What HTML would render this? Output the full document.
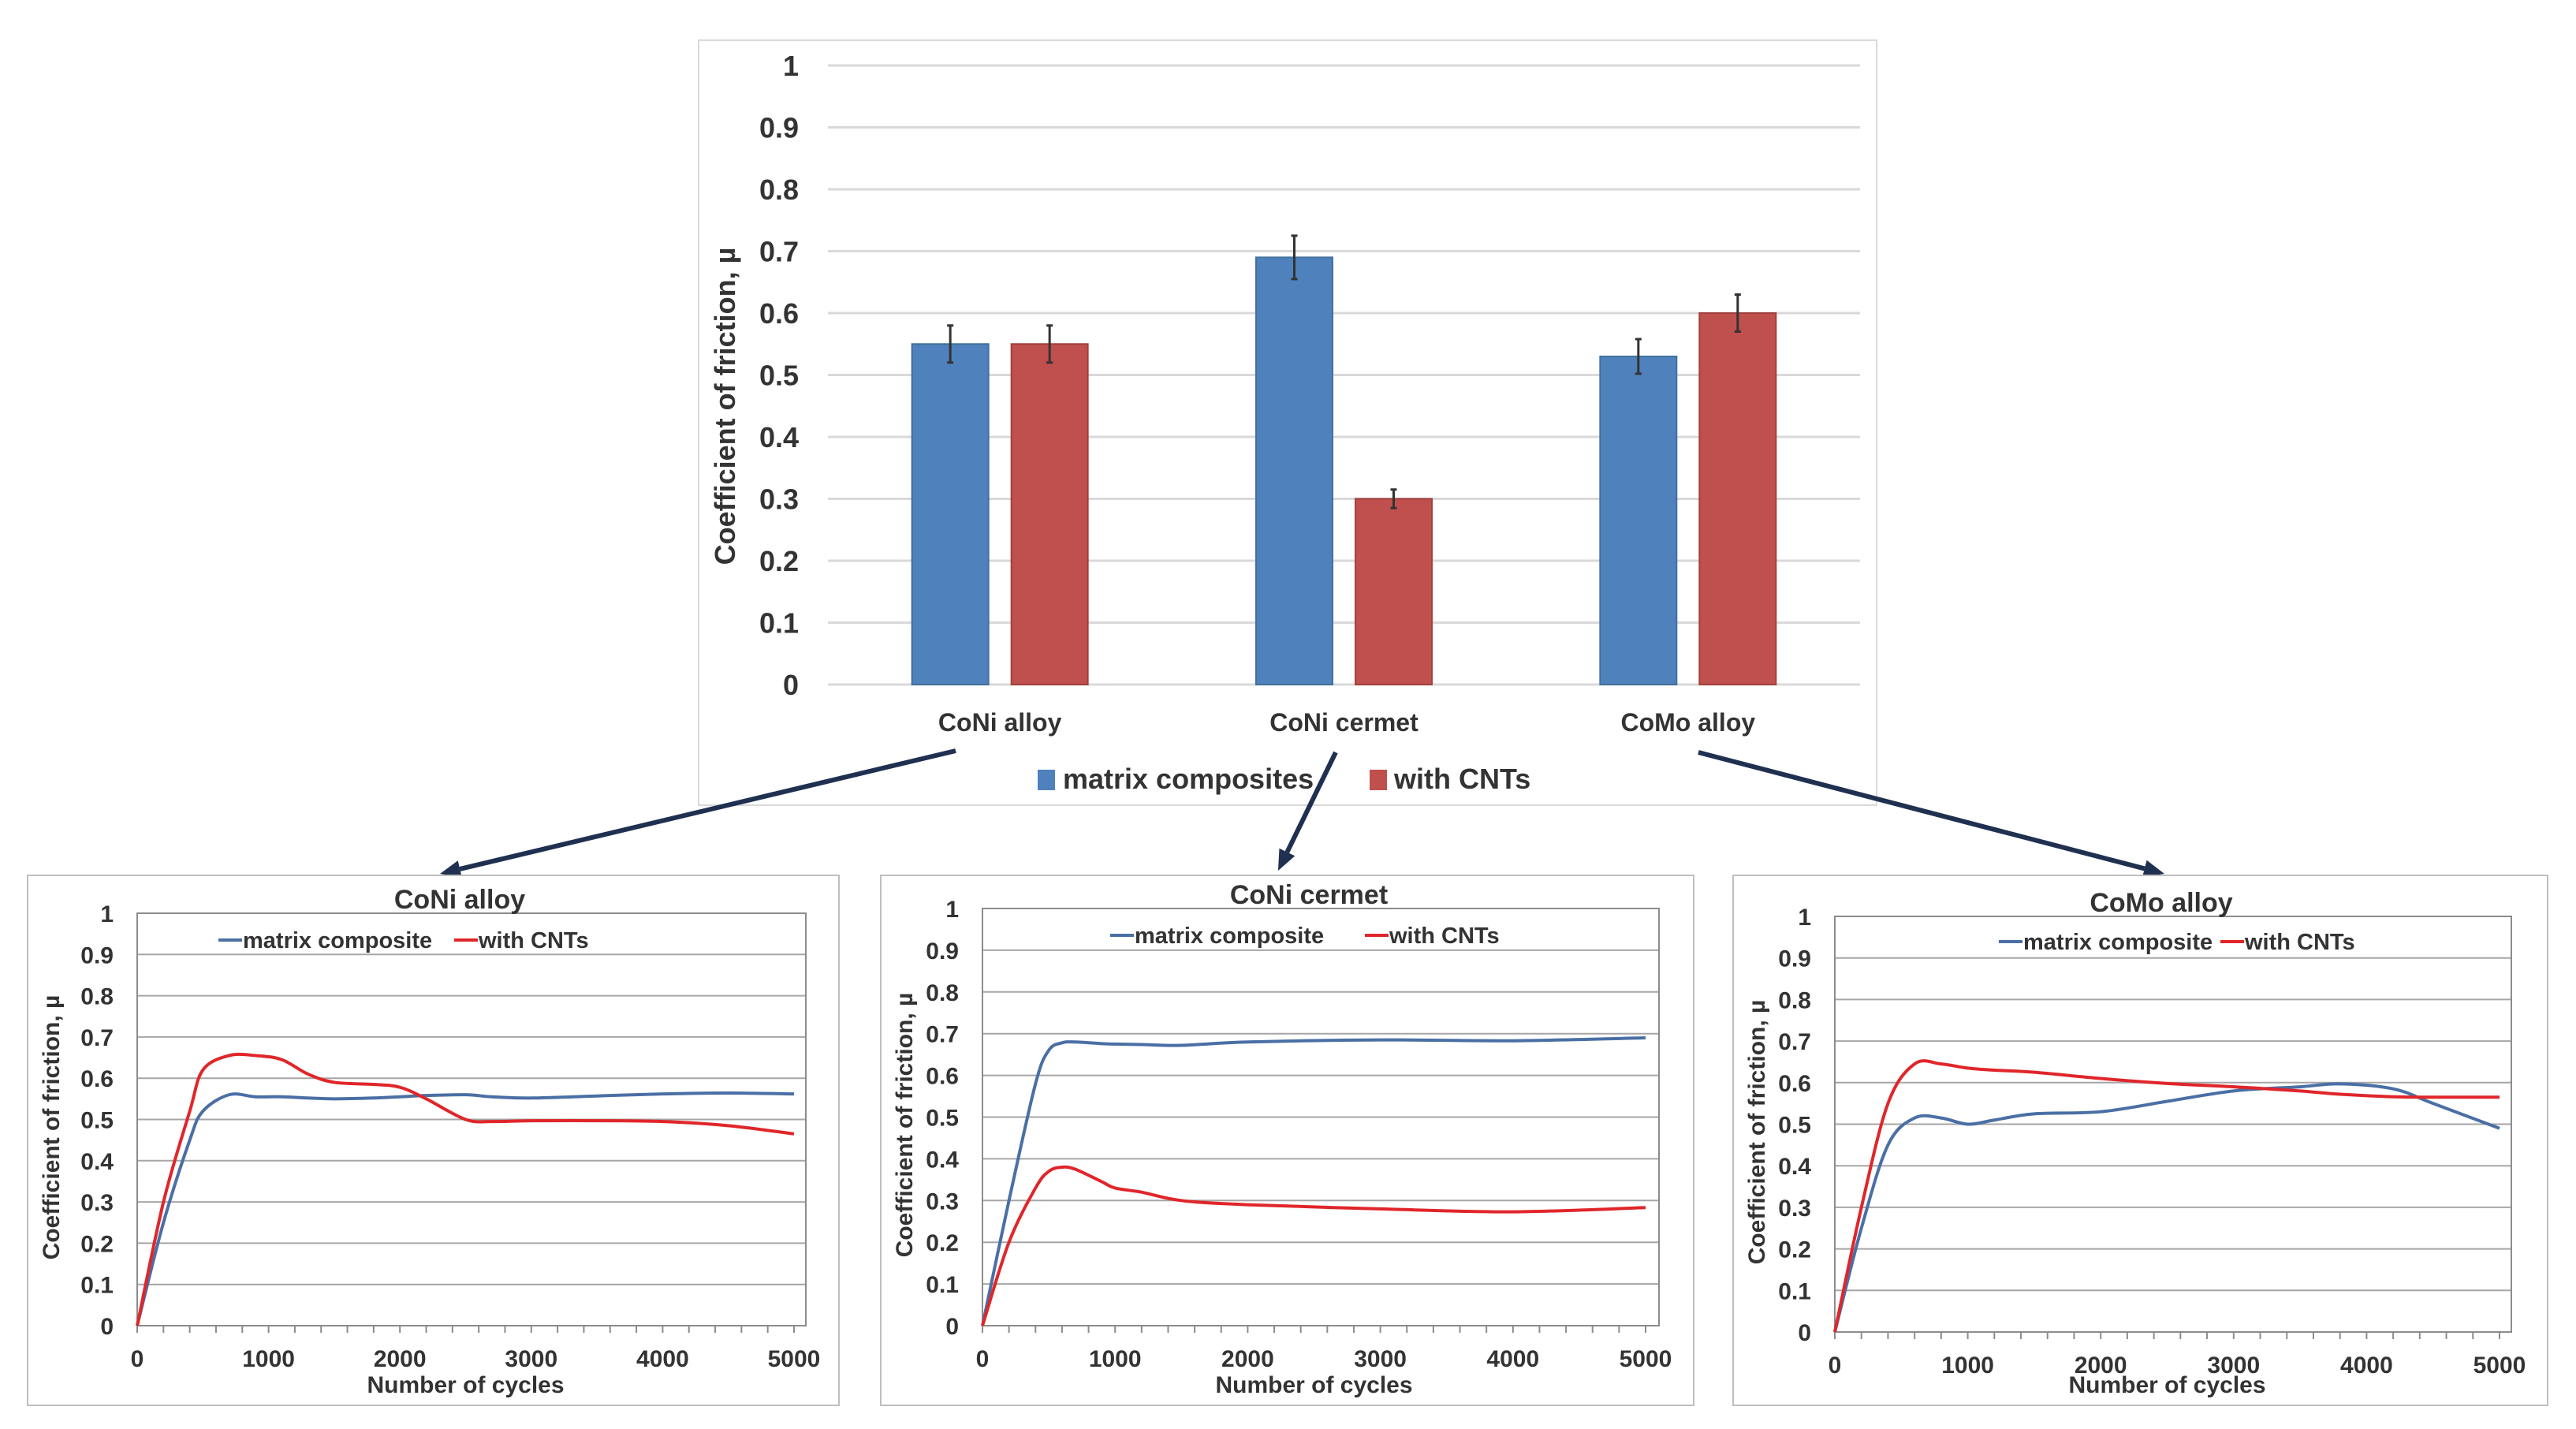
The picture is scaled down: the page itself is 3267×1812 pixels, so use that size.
<!DOCTYPE html>
<html><head><meta charset="utf-8"><style>
html,body{margin:0;padding:0;background:#fff;}
svg{display:block;}
text{font-family:"Liberation Sans",sans-serif;font-weight:bold;fill:#333;}
</style></head><body>
<svg id="s" width="3267" height="1812" viewBox="0 0 3267 1812" xmlns="http://www.w3.org/2000/svg"></svg>
<script>
// ---- top bar chart data ----
const barCategories = ["CoNi alloy","CoNi cermet","CoMo alloy"];
const matrixValues = [0.55,0.69,0.53];
const cntValues = [0.55,0.30,0.60];
const matrixErr = [0.03,0.035,0.028];
const cntErr = [0.03,0.015,0.03];
const yTicks = [0,0.1,0.2,0.3,0.4,0.5,0.6,0.7,0.8,0.9,1];
const yTickLabels = ["0","0.1","0.2","0.3","0.4","0.5","0.6","0.7","0.8","0.9","1"];
// ---- line chart data ----
const cycleTicks = [0,1000,2000,3000,4000,5000];
const coniX = [0,200,400,500,700,900,1100,1300,1500,1800,2000,2200,2500,2700,3000,3500,4000,4500,5000];
const coniMatrix = [0,0.25,0.45,0.52,0.56,0.555,0.555,0.552,0.55,0.552,0.555,0.558,0.56,0.555,0.552,0.557,0.562,0.564,0.562];
const coniCnt = [0,0.3,0.52,0.62,0.655,0.655,0.645,0.61,0.59,0.585,0.578,0.55,0.50,0.495,0.497,0.497,0.495,0.485,0.465];
const cermetX = [0,200,400,500,600,700,900,1000,1200,1500,2000,3000,4000,5000];
const cermetMatrix = [0,0.3,0.58,0.66,0.678,0.68,0.676,0.675,0.674,0.672,0.68,0.685,0.683,0.69];
const cermetCnt = [0,0.2,0.33,0.37,0.38,0.375,0.345,0.33,0.32,0.30,0.29,0.28,0.273,0.283];
const comoX = [0,200,400,600,800,1000,1200,1500,2000,2500,3000,3500,3800,4200,4500,5000];
const comoMatrix = [0,0.25,0.45,0.515,0.515,0.50,0.51,0.525,0.53,0.555,0.58,0.59,0.597,0.585,0.55,0.49];
const comoCnt = [0,0.3,0.55,0.645,0.645,0.635,0.63,0.625,0.61,0.598,0.59,0.58,0.572,0.566,0.565,0.565];

const NS="http://www.w3.org/2000/svg";
const svg=document.getElementById('s');
function el(tag,attrs,parent){const e=document.createElementNS(NS,tag);for(const k in attrs)e.setAttribute(k,attrs[k]);(parent||svg).appendChild(e);return e;}
function txt(str,attrs,parent){const e=el('text',attrs,parent);e.textContent=str;return e;}

// ===== Top chart =====
const T={x0:1050,x1:2359,y0:868,y1:83};
const ty=v=>T.y0+(T.y1-T.y0)*v;
const topG=el('g',{});


const frame=el('rect',{x:886,y:51,width:1494,height:970,fill:'#fff',stroke:'#d9d9d9','stroke-width':2},topG);


yTicks.forEach((v,i)=>{
  const g=el('line',{x1:T.x0,x2:T.x1,y1:ty(v),y2:ty(v),stroke:'#d9d9d9','stroke-width':3},topG);
  
  
  const t=txt(yTickLabels[i],{x:1013,y:ty(v)+13,'text-anchor':'end','font-size':36},topG);
  
  
});
const yt=txt('Coefficient of friction, µ',{x:0,y:0,'font-size':36,'text-anchor':'middle',transform:'translate(932,515) rotate(-90)'},topG);


const catW=(T.x1-T.x0)/barCategories.length, bw=97, gap=29;
barCategories.forEach((c,i)=>{
  const cx=T.x0+catW*(i+0.5);
  [[matrixValues[i],matrixErr[i],'#4f81bd','#41719c',cx-gap/2-bw,'bar-matrix'],[cntValues[i],cntErr[i],'#c0504d','#a2403d',cx+gap/2,'bar-cnt']].forEach(([v,e,f,s,x,n])=>{
    const r=el('rect',{x:x,y:ty(v),width:bw,height:T.y0-ty(v),fill:f,stroke:s,'stroke-width':2},topG);
    
    
    const mx=x+bw/2;
    const eb=el('path',{d:`M${mx},${ty(v+e)}V${ty(v-e)}M${mx-4},${ty(v+e)}h8M${mx-4},${ty(v-e)}h8`,stroke:'#333','stroke-width':3,fill:'none'},topG);
    
    
  });
  const cl=txt(c,{x:cx,y:927,'text-anchor':'middle','font-size':32},topG);
  
  
});
const lg=el('g',{},topG);


el('rect',{x:1316,y:976,width:22,height:26,fill:'#4f81bd'},lg);
const l1=txt('matrix composites',{x:1348,y:1000,'font-size':36},lg);


el('rect',{x:1737,y:976,width:22,height:26,fill:'#c0504d'},lg);
const l2=txt('with CNTs',{x:1768,y:1000,'font-size':36},lg);



// ===== Arrows =====
const arrows=[[1212,952,558,1108],[1694,954,1621,1104],[2154,954,2745,1108]];
arrows.forEach(a=>{
  const [x1,y1,x2,y2]=a;const ang=Math.atan2(y2-y1,x2-x1);const L=26,W=11;
  const bx=x2-L*Math.cos(ang),by=y2-L*Math.sin(ang);
  const g=el('g',{});
  
  
  el('line',{x1:x1,y1:y1,x2:bx,y2:by,stroke:'#1f3050','stroke-width':6},g);
  el('polygon',{points:`${x2},${y2} ${bx-W*Math.sin(ang)},${by+W*Math.cos(ang)} ${bx+W*Math.sin(ang)},${by-W*Math.cos(ang)}`,fill:'#1f3050'},g);
});

// ===== Line charts =====
function smooth(pts){let d=`M${pts[0][0]},${pts[0][1]}`;for(let i=0;i<pts.length-1;i++){const p0=pts[Math.max(0,i-1)],p1=pts[i],p2=pts[i+1],p3=pts[Math.min(pts.length-1,i+2)];d+=`C${p1[0]+(p2[0]-p0[0])/6},${p1[1]+(p2[1]-p0[1])/6} ${p2[0]-(p3[0]-p1[0])/6},${p2[1]-(p3[1]-p1[1])/6} ${p2[0]},${p2[1]}`;}return d;}
function lineChart(name,title,F,P,leg,xs,blue,red){
  const g=el('g',{});
  
  
  el('rect',{x:F[0],y:F[1],width:F[2]-F[0],height:F[3]-F[1],fill:'#fff',stroke:'#bfbfbf','stroke-width':2},g);
  const X=v=>P.x0+(P.x5-P.x0)*v/5000, Y=v=>P.y0+(P.y1-P.y0)*v;
  yTicks.forEach((v,i)=>{
    const gl=el('line',{x1:P.x0,x2:P.xr,y1:Y(v),y2:Y(v),stroke:'#a6a6a6','stroke-width':2},g);
    
    
    const t=txt(yTickLabels[i],{x:P.x0-30,y:Y(v)+11,'text-anchor':'end','font-size':30},g);
    
    
  });
  el('rect',{x:P.x0,y:Y(1),width:P.xr-P.x0,height:Y(0)-Y(1),fill:'none',stroke:'#8c8c8c','stroke-width':2},g);
  for(let c=0;c<=5000;c+=200){el('line',{x1:X(c),x2:X(c),y1:Y(0),y2:Y(0)+9,stroke:'#8c8c8c','stroke-width':2},g);}
  cycleTicks.forEach(c=>{
    const t=txt(String(c),{x:X(c),y:Y(0)+52,'text-anchor':'middle','font-size':30},g);
    
    
  });
  const xt=txt('Number of cycles',{x:(P.x0+P.x5)/2,y:F[3]-16,'text-anchor':'middle','font-size':30},g);
  
  
  const yt2=txt('Coefficient of friction, µ',{x:0,y:0,'text-anchor':'middle','font-size':30,transform:`translate(${F[0]+40},${(Y(0)+Y(1))/2+10}) rotate(-90)`},g);
  
  
  const tt=txt(title,{x:(P.x0+P.xr)/2-15,y:Y(1)-6,'text-anchor':'middle','font-size':34,fill:'#111'},g);
  
  
  const pb=el('path',{d:smooth(xs.map((c,i)=>[X(c),Y(blue[i])])),fill:'none',stroke:'#4a6fa5','stroke-width':4},g);
  
  
  const pr=el('path',{d:smooth(xs.map((c,i)=>[X(c),Y(red[i])])),fill:'none',stroke:'#e0262a','stroke-width':4},g);
  
  
  el('line',{x1:leg[0],x2:leg[0]+30,y1:leg[2],y2:leg[2],stroke:'#4a6fa5','stroke-width':4},g);
  const e1=txt('matrix composite',{x:leg[0]+31,y:leg[2]+10,'font-size':29},g);
  
  
  el('line',{x1:leg[1],x2:leg[1]+30,y1:leg[2],y2:leg[2],stroke:'#e0262a','stroke-width':4},g);
  const e2=txt('with CNTs',{x:leg[1]+31,y:leg[2]+10,'font-size':29},g);
  
  
}
lineChart('coni-alloy-chart','CoNi alloy',[35,1110,1064,1782],{x0:174,x5:1007,xr:1022,y0:1681,y1:1158},[277,576,1192],coniX,coniMatrix,coniCnt);
lineChart('coni-cermet-chart','CoNi cermet',[1117,1110,2148,1782],{x0:1246,x5:2087,xr:2104,y0:1681,y1:1152},[1408,1731,1186],cermetX,cermetMatrix,cermetCnt);
lineChart('como-alloy-chart','CoMo alloy',[2198,1110,3231,1782],{x0:2327,x5:3170,xr:3185,y0:1689,y1:1162},[2535,2816,1194],comoX,comoMatrix,comoCnt);
</script>
</body></html>
